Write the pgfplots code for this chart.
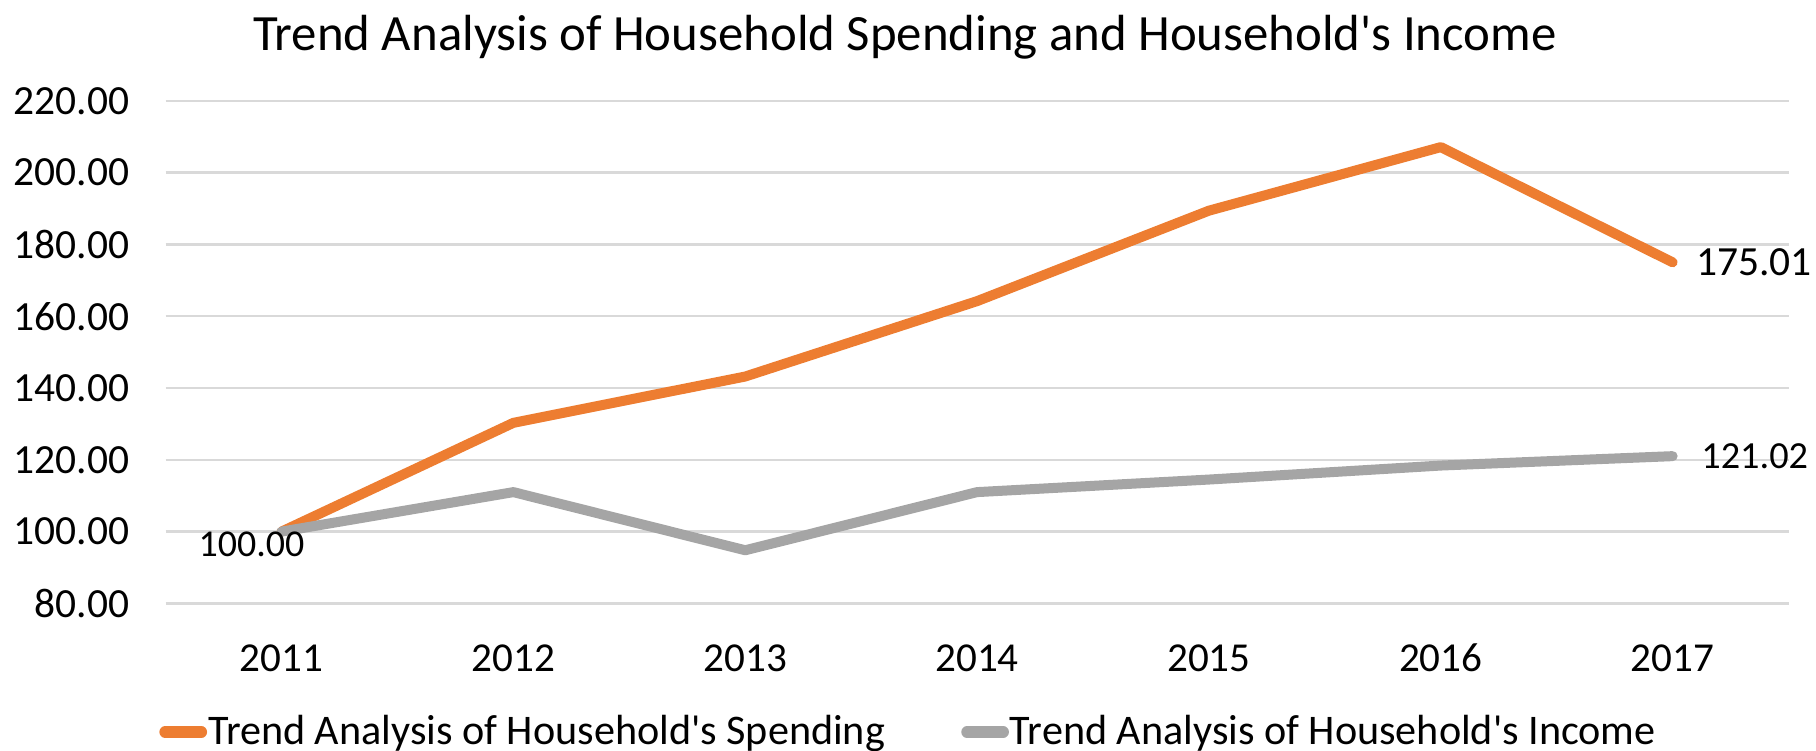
\documentclass[border=0pt]{standalone}
\usepackage{pgfplots}
\pgfplotsset{compat=1.18}
\usepackage{pgfplotstable}
\usepackage{fontspec}
\setmainfont{Carlito}
\definecolor{sorange}{HTML}{ED7D31}
\definecolor{sgray}{HTML}{A5A5A5}
\definecolor{gridc}{HTML}{D9D9D9}

\pgfplotstableread{
x y
0 100.00
1 130.3
2 143.2
3 164.2
4 189.4
5 207.1
6 175.01
}\spending
\pgfplotstableread{
x y
0 100.00
1 111.0
2 94.8
3 111.0
4 114.5
5 118.4
6 121.02
}\income

\begin{document}
\begin{tikzpicture}
\useasboundingbox (-16.56mm,-14.66mm) rectangle (165.04mm,60.34mm);
\begin{axis}[
  at={(0,0)}, anchor=south west,
  scale only axis, width=162.3mm, height=50.26mm,
  xmin=-0.5, xmax=6.5, ymin=80, ymax=220,
  ytick={80,100,...,220},
  xtick={0,...,6},
  xticklabels={2011,2012,2013,2014,2015,2016,2017},
  axis line style={draw=none},
  major tick length=0pt,
  ymajorgrids,
  grid style={gridc, line width=0.25mm},
  clip=false,
  /pgf/number format/assume math mode=true,
  yticklabel style={/pgf/number format/.cd, fixed, fixed zerofill, precision=2, /tikz/.cd, anchor=east, inner sep=0pt, xshift=-3.56mm, font=\fontsize{11.8}{14}\selectfont},
  xticklabel style={anchor=center, inner sep=0pt, yshift=-5.46mm, font=\fontsize{11.7}{14}\selectfont},
  legend columns=2,
  legend style={at={(axis description cs:-0.00425,-0.2559)}, anchor=west, draw=none, fill=none, inner sep=0pt,
    font=\fontsize{12}{14}\selectfont,
    /tikz/every even column/.append style={column sep=7.5mm},
    nodes={inner sep=0.1mm}},
  legend image code/.code={\draw[#1, line width=1.17mm, line cap=round] (0mm,0mm) -- (3.6mm,0mm);},
]
\addplot[sorange, line width=1.0mm, line join=round, line cap=round] table[x=x,y=y] {\spending};
\addlegendentry{Trend Analysis of Household\textquotesingle s Spending}
\addplot[sgray, line width=1.0mm, line join=round, line cap=round] table[x=x,y=y] {\income};
\addlegendentry{Trend Analysis of Household\textquotesingle s Income}
\node[anchor=west, font=\fontsize{11.8}{14}\selectfont, inner sep=0pt] at (axis cs:6,175.01) [xshift=2.3mm] {175.01};
\node[anchor=west, font=\fontsize{10.9}{12}\selectfont, inner sep=0pt] at (axis cs:6,121.02) [xshift=2.8mm] {121.02};
\node[font=\fontsize{10.8}{12}\selectfont, inner sep=0pt] at (axis cs:0,100) [xshift=-3.0mm, yshift=-1.24mm] {100.00};
\end{axis}
\node[font=\fontsize{14.46}{17}\selectfont] at (73.94mm,56.64mm) {Trend Analysis of Household Spending and Household\textquotesingle s Income};
\end{tikzpicture}
\end{document}
